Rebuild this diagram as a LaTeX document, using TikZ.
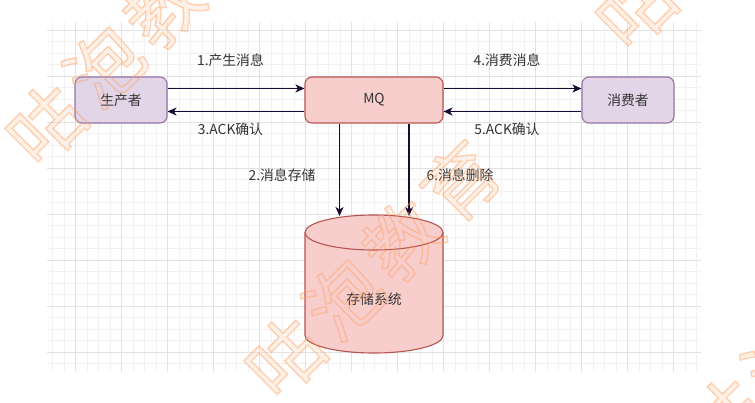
\documentclass[tikz,border=0pt]{standalone}
\usepackage{fontspec}
\setmainfont{Noto Sans CJK SC}
\usetikzlibrary{arrows.meta}

\definecolor{gridminor}{HTML}{F1F1F1}
\definecolor{gridmajor}{HTML}{E2E2E2}
\definecolor{purplefill}{HTML}{E1D5E7}
\definecolor{purpleline}{HTML}{9673A6}
\definecolor{redfill}{HTML}{F8CECC}
\definecolor{redline}{HTML}{B85450}
\definecolor{flow}{HTML}{1A0B33}
\definecolor{txt}{HTML}{333333}
\definecolor{stamp}{HTML}{FF9F60}
\definecolor{stamppale}{HTML}{FFF1E6}

% stamp text: pale glyph bodies underneath, glyph outlines on top
\newcommand\stampchars{咕\hspace{9pt}泡\hspace{9pt}教\hspace{9pt}育}
\newcommand\stampbody{\stampchars}
\newcommand\stampoutline{\special{pdf:literal direct 1 Tr 1.4 w}\stampchars\special{pdf:literal direct 0 Tr}}

\begin{document}
\begin{tikzpicture}[x=1pt,y=1pt,
  box/.style={draw, rounded corners=7pt, line width=1.1pt, minimum width=92pt,
    minimum height=46pt, inner sep=0pt, font=\fontsize{13.8}{16}\selectfont, text=txt},
  actor/.style={box, fill=purplefill, draw=purpleline},
  queue/.style={box, fill=redfill, draw=redline, minimum width=138pt},
  flowarrow/.style={draw=flow, line width=1.2pt,
    -{Stealth[length=9pt,width=8pt,inset=2.5pt]}},
  lbl/.style={font=\fontsize{13.8}{16}\selectfont, text=txt, inner sep=0pt},
  dbline/.style={draw=redline, line width=1.1pt},
  stamptext/.style={font=\fontsize{74}{78}\selectfont, rotate=45, inner sep=0pt}]

\useasboundingbox (0,0) rectangle (755,-402);
\fill[white] (0,0) rectangle (755,-402);

% pale bodies of the stamp text
\node[stamptext, text=stamppale] (b1) at (133.5,-36.5) {\stampbody};
\node[stamptext, text=stamppale] (b2) at (372.5,-269) {\stampbody};
\node[stamptext, text=stamppale] (b3) at (723.5,79.5) {\stampbody};
\node[stamptext, text=stamppale] (b4) at (812,-330) {\stampbody};

% background grid: minor every 11.5pt, major every 46pt
\begin{scope}
  \clip (47,-22) rectangle (701,-372);
  \foreach \k in {-3,...,55}
    \draw[gridminor, line width=0.8pt] ({75.7+11.5*\k},-22) -- ++(0,-350);
  \foreach \k in {-1,...,30}
    \draw[gridminor, line width=0.8pt] (47,{-30.3-11.5*\k}) -- ++(654,0);
  \foreach \k in {0,...,13}
    \draw[gridmajor, line width=0.9pt] ({75.7+46*\k},-22) -- ++(0,-350);
  \foreach \k in {0,...,7}
    \draw[gridmajor, line width=0.9pt] (47,{-30.3-46*\k}) -- ++(654,0);
\end{scope}

% main boxes
\node[actor] (prod) at (121,-100) {生产者};
\node[queue] (mq) at (374,-100) {MQ};
\node[actor] (cons) at (628,-100) {消费者};

% storage cylinder
\path[fill=redfill, dbline] (305,-232.5) -- (305,-335.5)
  arc[start angle=180, end angle=360, x radius=69pt, y radius=17.5pt]
  -- (443,-232.5)
  arc[start angle=0, end angle=180, x radius=69pt, y radius=17.5pt] -- cycle;
\draw[dbline] (305,-232.5)
  arc[start angle=180, end angle=360, x radius=69pt, y radius=17.5pt];
\node[lbl] (store) at (374,-299) {存储系统};
\coordinate (storeIn) at (339.5,-216);
\coordinate (storeDel) at (409,-216);

% message flow
\draw[flowarrow] ([yshift=11.5pt]prod.east) -- ([yshift=11.5pt]mq.west);
\draw[flowarrow] ([yshift=-11.5pt]mq.west) -- ([yshift=-11.5pt]prod.east);
\draw[flowarrow] ([yshift=11.5pt]mq.east) -- ([yshift=11.5pt]cons.west);
\draw[flowarrow] ([yshift=-11.5pt]cons.west) -- ([yshift=-11.5pt]mq.east);
\draw[flowarrow] (mq.south -| storeIn) -- (storeIn);
\draw[flowarrow] (mq.south -| storeDel) -- (storeDel);

% step labels
\node[lbl] (l1) at (230.5,-60) {1.产生消息};
\node[lbl] (l3) at (230.5,-129) {3.ACK确认};
\node[lbl] (l4) at (507,-60) {4.消费消息};
\node[lbl] (l5) at (507,-129) {5.ACK确认};
\node[lbl] (l2) at (282,-175) {2.消息存储};
\node[lbl] (l6) at (460,-175) {6.消息删除};

% outlines of the stamp text, drawn over everything
\begin{scope}[opacity=0.45]
\node[stamptext, text=stamp] (s1) at (133.5,-36.5) {\stampoutline};
\node[stamptext, text=stamp] (s2) at (372.5,-269) {\stampoutline};
\node[stamptext, text=stamp] (s3) at (723.5,79.5) {\stampoutline};
\node[stamptext, text=stamp] (s4) at (812,-330) {\stampoutline};
\end{scope}
\end{tikzpicture}
\end{document}
